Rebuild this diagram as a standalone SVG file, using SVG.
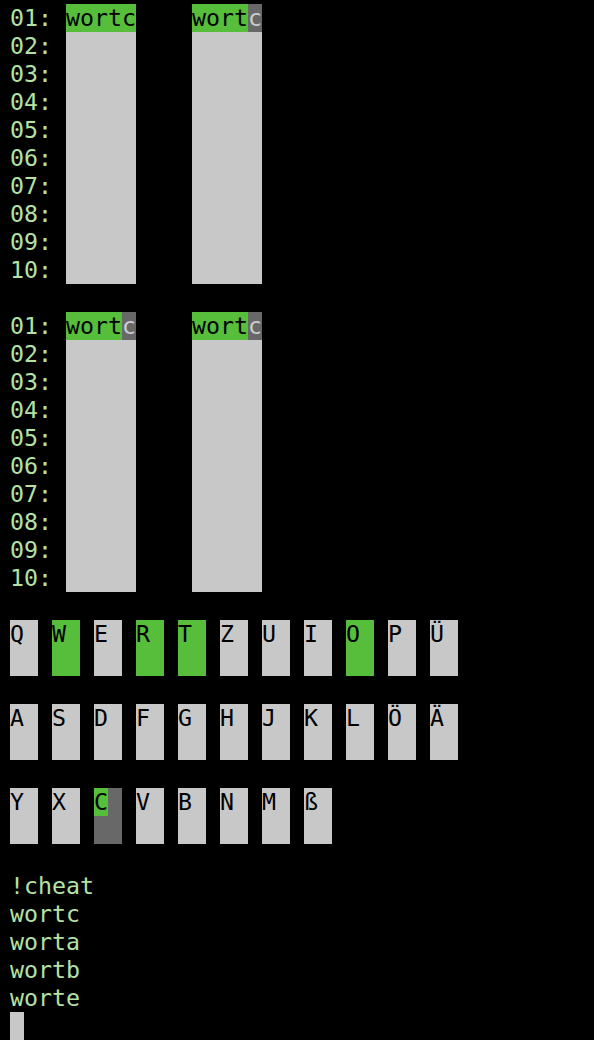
<svg xmlns="http://www.w3.org/2000/svg" width="594" height="1040" viewBox="0 0 594 1040">
<style>
text{font-family:"DejaVu Sans Mono","Liberation Mono",monospace;font-size:23.25px}
.lbl{fill:#b4e2a4}
.dk{fill:#000}
.lt{fill:#cccccc}
.g{fill:#56be3b}
.gr{fill:#c8c8c8}
.dg{fill:#686868}
</style>
<rect x="0" y="0" width="594" height="1040" fill="#000"/>
<g id="grid1-labels" class="lbl">
<text x="10" y="26">01:</text><text x="10" y="54">02:</text><text x="10" y="82">03:</text><text x="10" y="110">04:</text><text x="10" y="138">05:</text>
<text x="10" y="166">06:</text><text x="10" y="194">07:</text><text x="10" y="222">08:</text><text x="10" y="250">09:</text><text x="10" y="278">10:</text>
</g>
<g id="board1">
<rect class="g" x="66" y="4" width="70" height="28"/>
<rect class="gr" x="66" y="32" width="70" height="252"/>
<text class="dk" x="66" y="26">wortc</text>
</g>
<g id="board2">
<rect class="g" x="192" y="4" width="56" height="28"/>
<rect class="dg" x="248" y="4" width="14" height="28"/>
<rect class="gr" x="192" y="32" width="70" height="252"/>
<text class="dk" x="192" y="26">wort</text><text class="lt" x="248" y="26">c</text>
</g>
<g id="grid2-labels" class="lbl">
<text x="10" y="334">01:</text><text x="10" y="362">02:</text><text x="10" y="390">03:</text><text x="10" y="418">04:</text><text x="10" y="446">05:</text>
<text x="10" y="474">06:</text><text x="10" y="502">07:</text><text x="10" y="530">08:</text><text x="10" y="558">09:</text><text x="10" y="586">10:</text>
</g>
<g id="board3">
<rect class="g" x="66" y="312" width="56" height="28"/>
<rect class="dg" x="122" y="312" width="14" height="28"/>
<rect class="gr" x="66" y="340" width="70" height="252"/>
<text class="dk" x="66" y="334">wort</text><text class="lt" x="122" y="334">c</text>
</g>
<g id="board4">
<rect class="g" x="192" y="312" width="56" height="28"/>
<rect class="dg" x="248" y="312" width="14" height="28"/>
<rect class="gr" x="192" y="340" width="70" height="252"/>
<text class="dk" x="192" y="334">wort</text><text class="lt" x="248" y="334">c</text>
</g>
<g id="keyboard-row1">
<rect class="gr" x="10" y="620" width="28" height="56"/><text class="dk" x="10" y="642">Q</text>
<rect class="g" x="52" y="620" width="28" height="56"/><text class="dk" x="52" y="642">W</text>
<rect class="gr" x="94" y="620" width="28" height="56"/><text class="dk" x="94" y="642">E</text>
<rect class="g" x="136" y="620" width="28" height="56"/><text class="dk" x="136" y="642">R</text>
<rect class="g" x="178" y="620" width="28" height="56"/><text class="dk" x="178" y="642">T</text>
<rect class="gr" x="220" y="620" width="28" height="56"/><text class="dk" x="220" y="642">Z</text>
<rect class="gr" x="262" y="620" width="28" height="56"/><text class="dk" x="262" y="642">U</text>
<rect class="gr" x="304" y="620" width="28" height="56"/><text class="dk" x="304" y="642">I</text>
<rect class="g" x="346" y="620" width="28" height="56"/><text class="dk" x="346" y="642">O</text>
<rect class="gr" x="388" y="620" width="28" height="56"/><text class="dk" x="388" y="642">P</text>
<rect class="gr" x="430" y="620" width="28" height="56"/><text class="dk" x="430" y="642">Ü</text>
</g>
<g id="keyboard-row2">
<rect class="gr" x="10" y="704" width="28" height="56"/><text class="dk" x="10" y="726">A</text>
<rect class="gr" x="52" y="704" width="28" height="56"/><text class="dk" x="52" y="726">S</text>
<rect class="gr" x="94" y="704" width="28" height="56"/><text class="dk" x="94" y="726">D</text>
<rect class="gr" x="136" y="704" width="28" height="56"/><text class="dk" x="136" y="726">F</text>
<rect class="gr" x="178" y="704" width="28" height="56"/><text class="dk" x="178" y="726">G</text>
<rect class="gr" x="220" y="704" width="28" height="56"/><text class="dk" x="220" y="726">H</text>
<rect class="gr" x="262" y="704" width="28" height="56"/><text class="dk" x="262" y="726">J</text>
<rect class="gr" x="304" y="704" width="28" height="56"/><text class="dk" x="304" y="726">K</text>
<rect class="gr" x="346" y="704" width="28" height="56"/><text class="dk" x="346" y="726">L</text>
<rect class="gr" x="388" y="704" width="28" height="56"/><text class="dk" x="388" y="726">Ö</text>
<rect class="gr" x="430" y="704" width="28" height="56"/><text class="dk" x="430" y="726">Ä</text>
</g>
<g id="keyboard-row3">
<rect class="gr" x="10" y="788" width="28" height="56"/><text class="dk" x="10" y="810">Y</text>
<rect class="gr" x="52" y="788" width="28" height="56"/><text class="dk" x="52" y="810">X</text>
<rect class="dg" x="94" y="788" width="28" height="56"/><rect class="g" x="94" y="788" width="14" height="28"/><text class="dk" x="94" y="810">C</text>
<rect class="gr" x="136" y="788" width="28" height="56"/><text class="dk" x="136" y="810">V</text>
<rect class="gr" x="178" y="788" width="28" height="56"/><text class="dk" x="178" y="810">B</text>
<rect class="gr" x="220" y="788" width="28" height="56"/><text class="dk" x="220" y="810">N</text>
<rect class="gr" x="262" y="788" width="28" height="56"/><text class="dk" x="262" y="810">M</text>
<rect class="gr" x="304" y="788" width="28" height="56"/><text class="dk" x="304" y="810">ß</text>
</g>
<g id="console" class="lbl">
<text x="10" y="894">!cheat</text>
<text x="10" y="922">wortc</text>
<text x="10" y="950">worta</text>
<text x="10" y="978">wortb</text>
<text x="10" y="1006">worte</text>
</g>
<g id="cursor"><rect class="gr" x="10" y="1012" width="14" height="28"/></g>
<g id="connectors"/>
</svg>
